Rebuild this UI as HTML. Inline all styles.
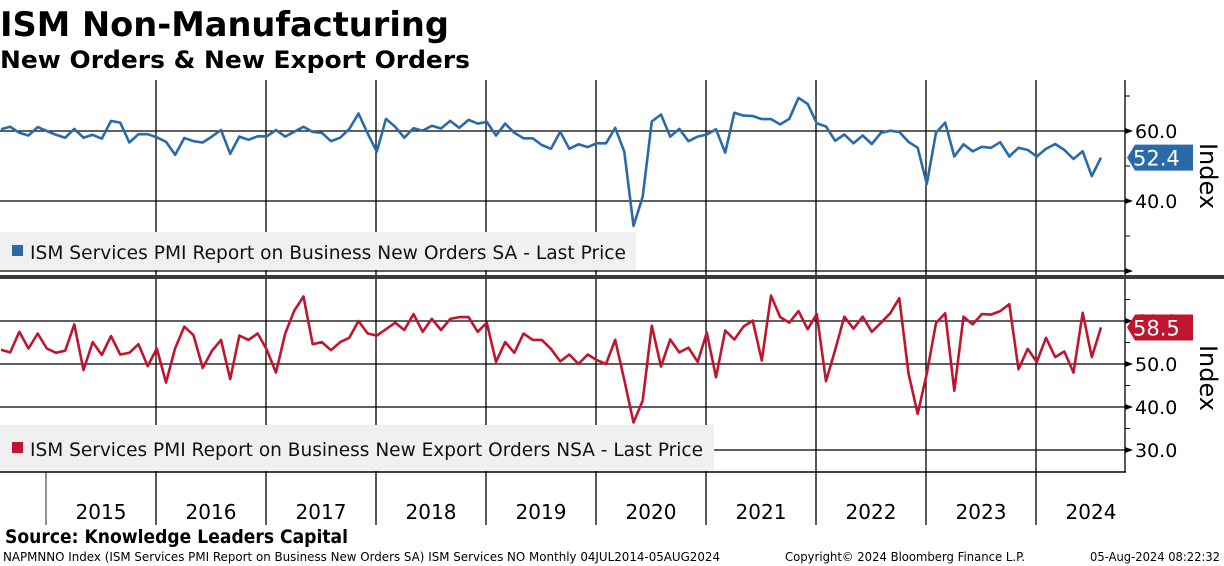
<!DOCTYPE html>
<html><head><meta charset="utf-8"><style>
html,body{margin:0;padding:0;background:#fff;width:1224px;height:566px;overflow:hidden}
svg text{font-family:"DejaVu Sans","Liberation Sans",sans-serif}
</style></head><body>
<svg id="c" width="1224" height="566" viewBox="0 0 1224 566" xmlns="http://www.w3.org/2000/svg">
<text x="0" y="36" font-size="34" font-weight="bold" textLength="449" lengthAdjust="spacingAndGlyphs">ISM Non-Manufacturing</text>
<text x="0" y="68" font-size="24" font-weight="bold" textLength="470" lengthAdjust="spacingAndGlyphs">New Orders &amp; New Export Orders</text>
<g id="grid"></g>
<g id="series"></g>
<g id="legends">
<rect x="0" y="232" width="636" height="38" fill="#f0f0f0"/>
<rect x="12" y="245" width="11" height="11" fill="#2a6aa8"/>
<text x="30" y="259" font-size="19" textLength="596" lengthAdjust="spacingAndGlyphs" fill="#111">ISM Services PMI Report on Business New Orders SA - Last Price</text>
<rect x="0" y="425" width="714" height="46" fill="#f0f0f0"/>
<rect x="12" y="442" width="11" height="11" fill="#c0152f"/>
<text x="30" y="456" font-size="19" textLength="673" lengthAdjust="spacingAndGlyphs" fill="#111">ISM Services PMI Report on Business New Export Orders NSA - Last Price</text>
</g>
<g id="axes"></g>
<rect x="0" y="275" width="1224" height="4" fill="#3a3a3a"/>
<line x1="0" y1="472" x2="1126" y2="472" stroke="#000" stroke-width="1.5"/>
<text x="5" y="543" font-size="19" font-weight="bold" textLength="343" lengthAdjust="spacingAndGlyphs">Source: Knowledge Leaders Capital</text>
<text x="3" y="561" font-size="12" textLength="717" lengthAdjust="spacingAndGlyphs">NAPMNNO Index (ISM Services PMI Report on Business New Orders SA) ISM Services NO  Monthly 04JUL2014-05AUG2024</text>
<text x="785" y="561" font-size="12" textLength="240" lengthAdjust="spacingAndGlyphs">Copyright© 2024 Bloomberg Finance L.P.</text>
<text x="1090" y="561" font-size="12" textLength="130" lengthAdjust="spacingAndGlyphs">05-Aug-2024 08:22:32</text>
</svg>
<script>
const years = ["2015","2016","2017","2018","2019","2020","2021","2022","2023","2024"];
const newOrders = [60.5,61.2,59.5,58.7,61.1,60,58.9,58.1,60.6,58.1,58.9,57.8,62.9,62.4,56.7,59.1,59.1,58.2,56.9,53.2,58,57.1,56.7,58.4,60.3,53.5,58.4,57.5,58.5,58.5,60.3,58.4,59.8,61.2,59.7,59.5,57.1,58.1,60.6,65,59.3,54.1,63.5,61.2,58.1,60.8,60.1,61.5,60.7,62.9,60.9,63.2,62.1,62.6,58.7,62.1,59.5,57.9,57.9,56,54.9,59.8,54.9,56.2,55.4,56.5,56.5,60.9,54.1,32.9,41.2,62.7,64.7,58.4,60.6,57.1,58.4,59,60.5,53.8,65.2,64.4,64.3,63.4,63.4,61.9,63.5,69.5,67.7,62.2,61.3,57.2,59,56.5,58.7,56.3,59.5,60.1,59.7,56.9,55.2,44.9,59.5,62.4,52.7,56.2,54.2,55.5,55.2,56.8,52.7,55.2,54.6,52.7,54.9,56.3,54.6,52,54.2,47.1,52.4];
const exportOrders = [53.3,52.7,57.5,53.6,57.1,53.6,52.6,53.1,59.2,48.6,55.1,52.1,56.5,52.2,52.6,54.6,49.5,53.6,45.7,53.7,58.7,56.7,49.1,53,55.6,46.5,56.6,55.6,57.1,53.3,48,57.1,62.4,65.7,54.6,55.1,53.2,55.1,56.1,60,57.1,56.6,58.1,59.6,57.9,61.6,57.5,60.5,57.9,60.5,60.9,60.9,57.5,59.6,50.5,55.1,52.6,57.1,55.6,55.6,53.5,50.6,52.2,50,52.2,50.9,50,55.6,46.3,36.4,41.5,58.9,49.4,55.7,52.7,53.8,50.5,57.3,46.9,57.8,55.7,58.7,60.1,50.8,65.9,60.9,59.6,62.3,58.1,61.6,46,53.3,61,58.2,61,57.5,59.6,61.8,65.3,47.8,38.4,47.8,59.5,61.8,43.8,61,59.2,61.6,61.5,62.3,63.9,48.8,53.5,50.5,56.1,51.6,52.9,48,61.9,51.6,58.5];
const topTicks = [60,40];
const bottomTicks = [60,50,40,30];

const NS="http://www.w3.org/2000/svg";
function mk(tag, attrs, parent){const e=document.createElementNS(NS,tag);for(const k in attrs)e.setAttribute(k,attrs[k]);parent.appendChild(e);return e;}
const grid=document.getElementById('grid'), ser=document.getElementById('series'), ax=document.getElementById('axes');
const AXX=1125;
// x: month index i (0 = Jul 2014), 12 months per 110px
function xM(i){return 1101-(newOrders.length-1-i)*110/12;}
function xYear(k){return 46+k*110;}
function yTop(v){return 131+(60-v)*3.5;}
function yBot(v){return 364+(50-v)*4.3;}

// vertical year lines
for(let k=1;k<years.length;k++){
  const l=mk('line',{x1:xYear(k),y1:80,x2:xYear(k),y2:525,stroke:'#000','stroke-width':1.3},grid);
  
  
}
{const l=mk('line',{x1:xYear(0),y1:472,x2:xYear(0),y2:525,stroke:'#555','stroke-width':1.3},grid);
 
 }
// horizontal gridlines
[60,40,20].forEach(v=>{const l=mk('line',{x1:0,y1:yTop(v),x2:AXX,y2:yTop(v),stroke:'#000','stroke-width':1.3},grid);
 
 });
bottomTicks.forEach(v=>{const l=mk('line',{x1:0,y1:yBot(v),x2:AXX,y2:yBot(v),stroke:'#000','stroke-width':1.3},grid);
 
 });

// series
function path(arr,yf){return arr.map((v,i)=>(i?'L':'M')+xM(i).toFixed(1)+','+yf(v).toFixed(1)).join(' ');}
const p1=mk('path',{d:path(newOrders,yTop),fill:'none',stroke:'#2a6aa8','stroke-width':2.6,'stroke-linejoin':'round'},ser);


const p2=mk('path',{d:path(exportOrders,yBot),fill:'none',stroke:'#c0152f','stroke-width':2.6,'stroke-linejoin':'round'},ser);



// axes
const a1=mk('line',{x1:AXX,y1:80,x2:AXX,y2:275,stroke:'#000','stroke-width':1.3},ax);


const a2=mk('line',{x1:AXX,y1:279,x2:AXX,y2:472,stroke:'#000','stroke-width':1.3},ax);


[70,50,30].forEach(v=>{const t=mk('line',{x1:AXX,y1:yTop(v),x2:AXX+5,y2:yTop(v),stroke:'#000'},ax);
 
 });
[65,55,45,35].forEach(v=>{const t=mk('line',{x1:AXX,y1:yBot(v),x2:AXX+5,y2:yBot(v),stroke:'#000'},ax);
 
 });
function arrowTick(y){const p=mk('path',{d:`M${AXX},${y-3} L${AXX+8},${y} L${AXX},${y+3}Z`,fill:'#000'},ax);return p;}
[60,40,20].forEach(v=>{const p=arrowTick(yTop(v));
 
 });
topTicks.forEach(v=>{const t=mk('text',{x:1135,y:yTop(v)+7,'font-size':19},ax);t.textContent=v.toFixed(1);
 
 });
bottomTicks.forEach(v=>{const p=arrowTick(yBot(v));
 
 
 const t=mk('text',{x:1135,y:yBot(v)+7,'font-size':19},ax);t.textContent=v.toFixed(1);
 
 });
// last value labels
function lastLabel(v,yf,color,name){
  const y=yf(v);
  const g=mk('g',{},ax);
  
  
  mk('path',{d:`M${AXX+2},${y} L${AXX+10},${y-13} L1193,${y-13} L1193,${y+13} L${AXX+10},${y+13}Z`,fill:color},g);
  const t=mk('text',{x:1133,y:y+8,'font-size':21,fill:'#fff'},g);t.textContent=v.toFixed(1);
}
lastLabel(newOrders[newOrders.length-1],yTop,'#2a6aa8','top-last-value');
lastLabel(exportOrders[exportOrders.length-1],yBot,'#c0152f','bottom-last-value');
// axis titles
[[176,'top-axis-title'],[378,'bottom-axis-title']].forEach(([cy,n])=>{
  const t=mk('text',{x:0,y:0,'font-size':24,'text-anchor':'middle',transform:`translate(1200,${cy}) rotate(90)`},ax);
  t.textContent='Index';
  
  
});
// year labels
years.forEach((y,k)=>{const t=mk('text',{x:xYear(k)+55,y:519,'font-size':20,'text-anchor':'middle'},ax);t.textContent=y;
 
 });
</script>
</body></html>
